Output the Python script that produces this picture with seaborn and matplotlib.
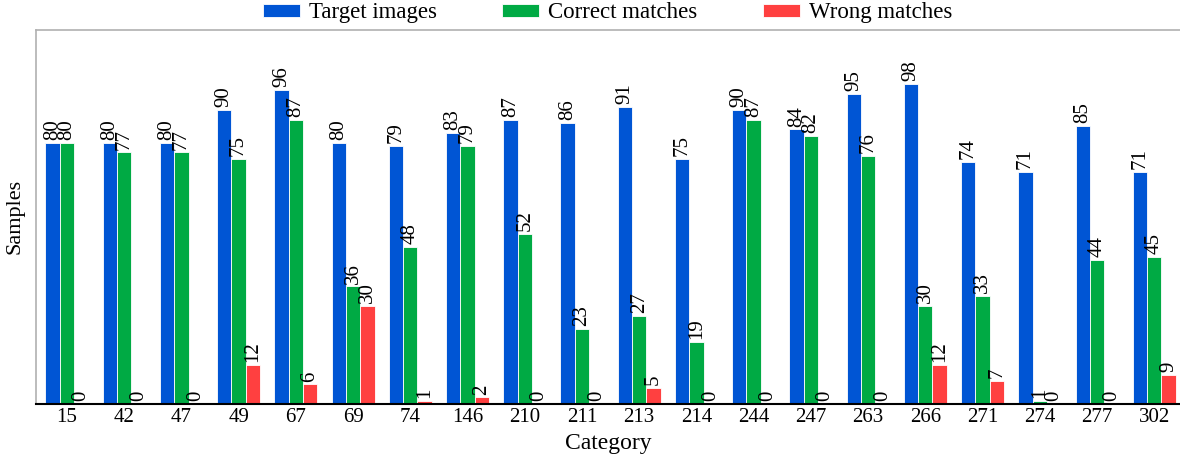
import matplotlib
matplotlib.use("Agg")
import matplotlib.pyplot as plt
import seaborn as sns
import pandas as pd

categories = ["15", "42", "47", "49", "67", "69", "74", "146", "210", "211",
              "213", "214", "244", "247", "263", "266", "271", "274", "277", "302"]
target_images = [80, 80, 80, 90, 96, 80, 79, 83, 87, 86,
                 91, 75, 90, 84, 95, 98, 74, 71, 85, 71]
correct_matches = [80, 77, 77, 75, 87, 36, 48, 79, 52, 23,
                   27, 19, 87, 82, 76, 30, 33, 1, 44, 45]
wrong_matches = [0, 0, 0, 12, 6, 30, 1, 2, 0, 0,
                 5, 0, 0, 0, 0, 12, 7, 0, 0, 9]
series_names = ["Target images", "Correct matches", "Wrong matches"]
series_colors = ["#0055d4", "#00aa44", "#ff4040"]

df = pd.DataFrame({
    "Category": categories * 3,
    "Samples": target_images + correct_matches + wrong_matches,
    "Series": [s for s in series_names for _ in categories],
})

sns.set_theme(style="white")
plt.rcParams["font.family"] = ["Liberation Serif", "DejaVu Serif"]
plt.rcParams["text.color"] = "black"
plt.rcParams["axes.labelcolor"] = "black"
plt.rcParams["xtick.color"] = "black"

fig = plt.figure(figsize=(11.8, 4.59), dpi=100)
ax = fig.add_axes([0.0305, 0.12, 0.9695, 0.815])

sns.barplot(data=df, x="Category", y="Samples", hue="Series",
            order=categories, hue_order=series_names,
            palette=series_colors, width=0.75, saturation=1,
            edgecolor="white", linewidth=0.6, ax=ax)

for container in ax.containers:
    ax.bar_label(container, rotation=90, padding=2, fontsize=15, color="black")

ax.set_ylim(0, 114.5)
ax.set_xlim(-0.54, 19.45)
ax.set_yticks([])
ax.set_xlabel("Category", fontsize=17, labelpad=4)
ax.set_ylabel("Samples", fontsize=16, labelpad=8)
ax.tick_params(axis="x", labelsize=15, pad=3, length=0, labelcolor="black")

for side in ["left", "top"]:
    ax.spines[side].set_color("#b0b0b0")
    ax.spines[side].set_linewidth(1.2)
ax.spines["right"].set_visible(False)
ax.spines["bottom"].set_color("black")
ax.spines["bottom"].set_linewidth(1.5)

leg = ax.legend(loc="center", bbox_to_anchor=(0.515, 0.972),
                bbox_transform=fig.transFigure, ncol=3,
                frameon=False, fontsize=16.5, handlelength=1.6,
                handleheight=0.5, columnspacing=2.85, borderaxespad=0,
                borderpad=0, handletextpad=0.4)

fig.savefig("out.png", dpi=100)
